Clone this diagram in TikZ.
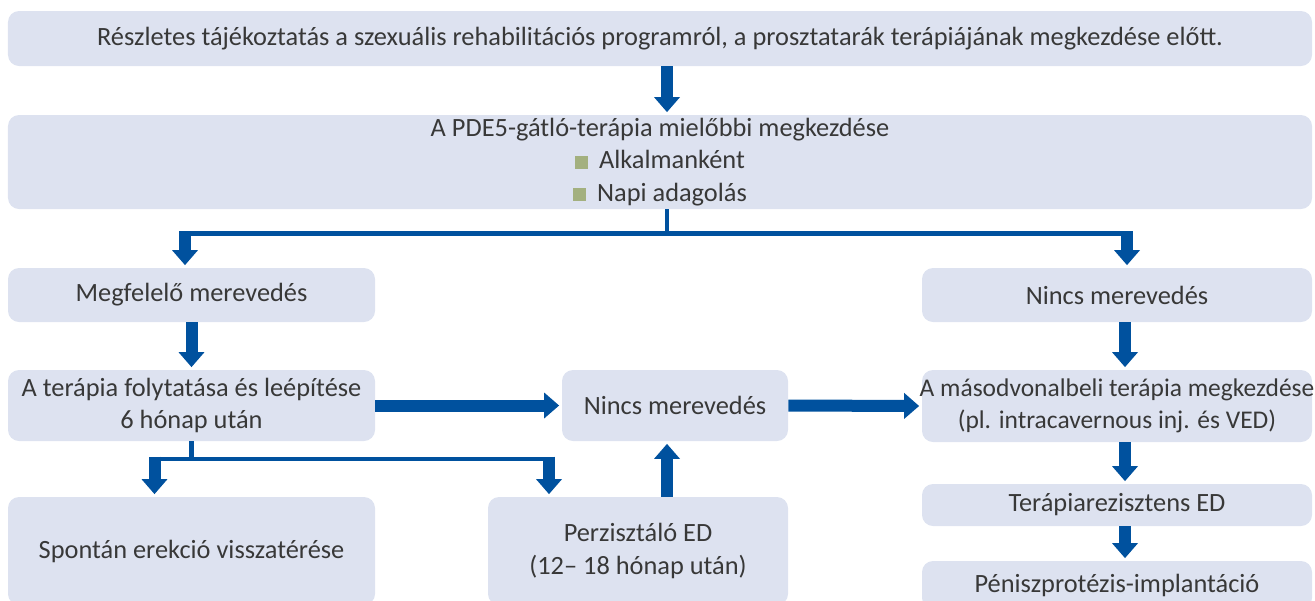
\documentclass[tikz,border=0pt]{standalone}
\usepackage{fontspec}
\setmainfont{Carlito}
\usetikzlibrary{arrows.meta,positioning}

\definecolor{boxfill}{HTML}{DDE2F0}
\definecolor{arrowblue}{HTML}{00519E}
\definecolor{textgray}{HTML}{383838}
\definecolor{bulletgreen}{HTML}{A3B07F}

\def\sq{\textcolor{bulletgreen}{\rule{0.26cm}{0.26cm}}\hspace{0.22cm}}

\tikzset{
  box/.style={fill=boxfill, rounded corners=0.22cm, text=textgray, align=center,
    inner sep=0pt, font=\fontsize{15}{18.5}\selectfont},
  fat/.style={arrowblue, line width=0.24cm, -{Triangle[width=0.5cm,length=0.3cm]},
    shorten >=0.05cm},
  branch/.style={arrowblue, line width=0.09cm},
}

\begin{document}
\begin{tikzpicture}
    \useasboundingbox (0,0) rectangle (26.3,-12);

    \node[box, minimum width=26.08cm, minimum height=1.1cm] (info) at (13.2,-0.77)
      {Részletes tájékoztatás a szexuális rehabilitációs programról, a prosztatarák terápiájának megkezdése előtt.};
    \node[box, minimum width=26.08cm, minimum height=1.88cm] (pde) at (13.2,-3.24)
      {A PDE5-gátló-terápia mielőbbi megkezdése\\ \sq Alkalmanként\\ \sq Napi adagolás};

    \node[box, minimum width=7.34cm, minimum height=1.08cm] (megf) at (3.83,-5.9) {Megfelelő merevedés};
    \node[box, minimum width=7.8cm, minimum height=1.08cm] (nincsR) at (22.34,-5.9) {Nincs merevedés};

    \node[box, minimum width=7.34cm, minimum height=1.42cm] (folyt) at (3.83,-8.11)
      {A terápia folytatása és leépítése\\ 6 hónap után};
    \node[box, minimum width=4.52cm, minimum height=1.42cm] (nincsM) at (13.5,-8.11) {Nincs merevedés};
    \node[box, minimum width=7.8cm, minimum height=1.44cm, font=\fontsize{14.5}{18.5}\selectfont] (masod) at (22.34,-8.12)
      {\makebox[7.5cm]{A másodvonalbeli terápia megkezdése}\\ (pl. intracavernous inj. és VED)};

    \node[box, minimum width=7.34cm, minimum height=2.16cm] (spontan) at (3.83,-11.02) {Spontán erekció visszatérése};
    \node[box, minimum width=6cm, minimum height=2.16cm] (perz) at (12.76,-11.02)
      {Perzisztáló ED\\ (12– 18 hónap után)};
    \node[box, minimum width=7.8cm, minimum height=0.84cm] (terap) at (22.34,-10.1) {Terápiarezisztens ED};
    \node[box, minimum width=7.8cm, minimum height=0.96cm] (penisz) at (22.34,-11.7) {Péniszprotézis-implantáció};

    % information -> PDE5 therapy
    \draw[fat] ([xshift=0.14cm]info.south) -- ([xshift=0.14cm]pde.north);

    % split below the PDE5 box
    \draw[branch] ([xshift=0.14cm]pde.south) -- ++(0,-0.48) coordinate (split);
    \coordinate (sl) at ([xshift=-0.13cm]megf.north |- split);
    \coordinate (sr) at ([xshift=0.2cm]nincsR.north |- split);
    \draw[branch] (sl) -- (sr);
    \draw[fat] ([yshift=0.045cm]sl) -- (sl |- megf.north);
    \draw[fat] ([yshift=0.045cm]sr) -- (sr |- nincsR.north);

    \draw[fat] (megf.south) -- (folyt.north);
    \draw[fat] ([xshift=0.16cm]nincsR.south) -- ([xshift=0.16cm]masod.north);

    \draw[fat] (folyt.east) -- (nincsM.west);
    \draw[fat] (nincsM.east) -- (masod.west);

    % split below the continued therapy
    \draw[branch] (folyt.south) -- ++(0,-0.35) coordinate (split2);
    \coordinate (sl2) at ([xshift=-0.74cm]spontan.north |- split2);
    \coordinate (sr2) at ([xshift=-1.78cm]perz.north |- split2);
    \draw[branch] (sl2) -- (sr2);
    \draw[fat] ([yshift=0.045cm]sl2) -- (sl2 |- spontan.north);
    \draw[fat] ([yshift=0.045cm]sr2) -- (sr2 |- perz.north);

    \draw[fat] ([xshift=0.58cm]perz.north) -- ([xshift=0.58cm]perz.north |- nincsM.south);

    \draw[fat] ([xshift=0.16cm]masod.south) -- ([xshift=0.16cm]terap.north);
    \draw[fat] ([xshift=0.16cm]terap.south) -- ([xshift=0.16cm]penisz.north);
\end{tikzpicture}
\end{document}
